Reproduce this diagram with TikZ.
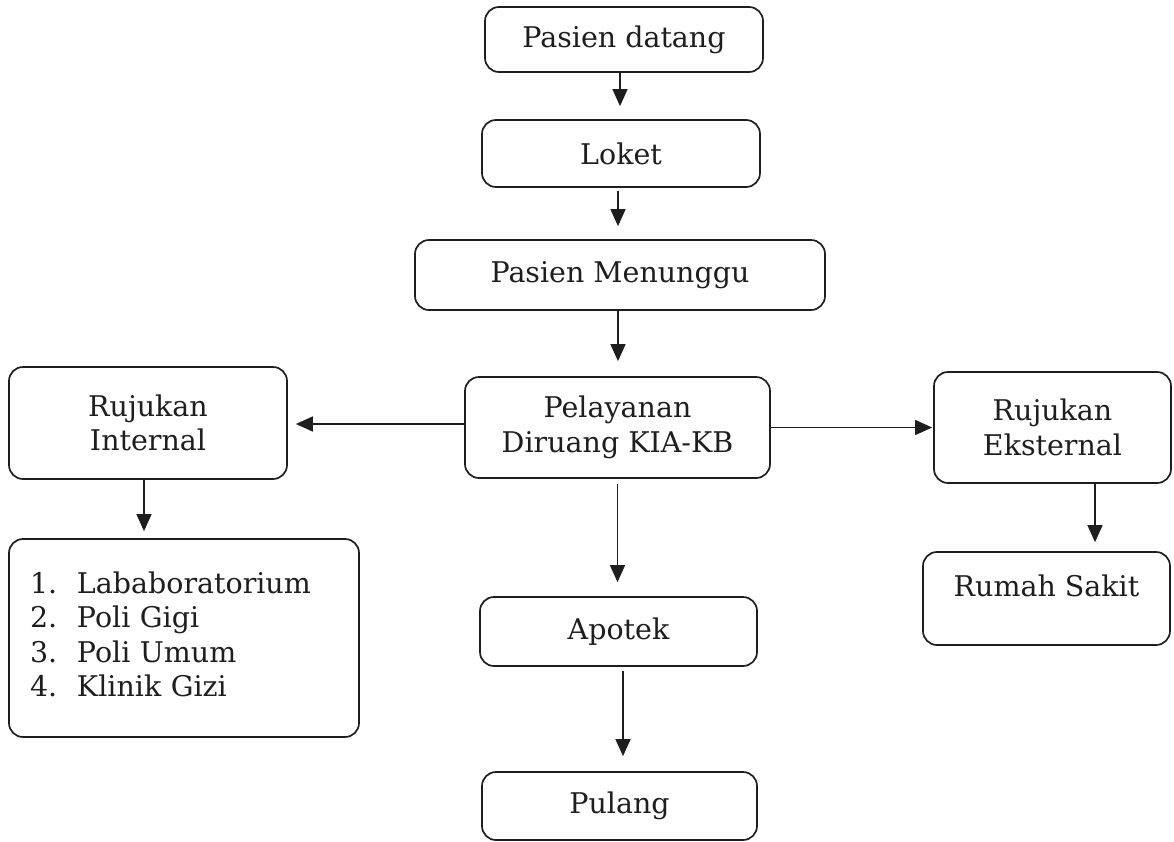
\documentclass[tikz,border=0pt]{standalone}
\usepackage{fontspec}
\setmainfont{DejaVu Serif}
\usetikzlibrary{arrows.meta}
\definecolor{ink}{HTML}{1E1E1E}
\tikzset{
  box/.style={draw=ink, line width=1.7pt, rounded corners=14pt, inner sep=0pt,
    font=\fontsize{28.5}{34.5}\selectfont, text=ink, align=center},
  arr/.style={draw=ink, line width=1.4pt, -{Triangle[length=17pt,width=15pt]}}
}
\begin{document}
\begin{tikzpicture}[x=1pt,y=-1pt]
\useasboundingbox (0,0) rectangle (1174,841);
\node[box, minimum width=278pt, minimum height=65pt] (datang) at (624,39.5) {Pasien datang};
\node[box, minimum width=278pt, minimum height=67pt] (loket) at (621,153.5) {Loket};
\node[box, minimum width=410pt, minimum height=70pt] (menunggu) at (620,275) {Pasien Menunggu};
\node[box, minimum width=305pt, minimum height=101pt] (pelayanan) at (617.5,427.5) {Pelayanan\\Diruang KIA-KB};
\node[box, minimum width=278pt, minimum height=112pt] (internal) at (148,423) {Rujukan\\Internal};
\node[box, minimum width=237pt, minimum height=111pt] (eksternal) at (1052.5,427.5) {Rujukan\\Eksternal};
\node[box, minimum width=350pt, minimum height=198pt, text width=308pt, inner xsep=21pt, align=left] (list) at (184,638)
  {\begin{tabular}{@{}p{47pt}@{}l@{}}1. & Lababoratorium\\ 2. & Poli Gigi\\ 3. & Poli Umum\\ 4. & Klinik Gizi\end{tabular}\\[12pt]};
\node[box, minimum width=247pt, minimum height=93pt] (rs) at (1046.5,598.5) {Rumah Sakit\\[-8pt]~};
\node[box, minimum width=277pt, minimum height=69pt] (apotek) at (618.5,631.5) {Apotek};
\node[box, minimum width=275pt, minimum height=68pt] (pulang) at (619.5,806) {Pulang};

\draw[arr, shorten >=13pt] ([xshift=-4pt]datang.south) -- ([xshift=-4pt]datang.south |- loket.north);
\draw[arr, shorten <=3pt, shorten >=13pt] ([xshift=-3pt]loket.south) -- ([xshift=-3pt]loket.south |- menunggu.north);
\draw[arr, shorten >=15pt] ([xshift=-2pt]menunggu.south) -- ([xshift=-2pt]menunggu.south |- pelayanan.north);
\draw[arr, shorten >=8pt] ([yshift=3.5pt]pelayanan.west) -- ([yshift=-1pt]internal.east);
\draw[arr, shorten >=1pt] (pelayanan.east) -- (eksternal.west);
\draw[arr, shorten >=7pt] ([xshift=-4pt]internal.south) -- ([xshift=-4pt]internal.south |- list.north);
\draw[arr, shorten >=9pt] ([xshift=42.5pt]eksternal.south) -- ([xshift=42.5pt]eksternal.south |- rs.north);
\draw[arr, shorten <=5pt, shorten >=14pt] (pelayanan.south) -- (pelayanan.south |- apotek.north);
\draw[arr, shorten <=4pt, shorten >=15pt] ([xshift=4.5pt]apotek.south) -- ([xshift=4.5pt]apotek.south |- pulang.north);
\end{tikzpicture}
\end{document}
